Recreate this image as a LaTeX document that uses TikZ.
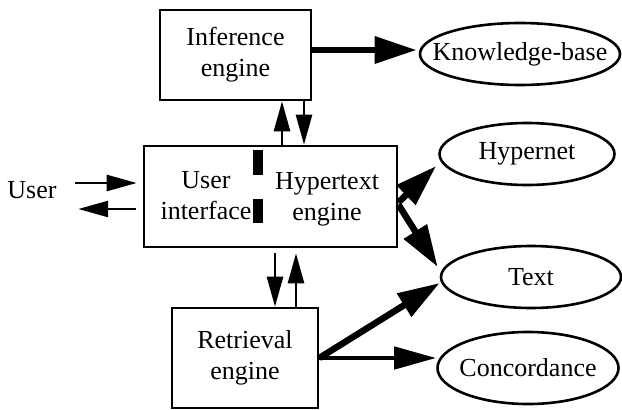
\documentclass[tikz,border=0pt]{standalone}
\usepackage{fontspec}
\setmainfont{Liberation Serif}
\usetikzlibrary{arrows.meta,shapes.geometric,calc}

\begin{document}
\begin{tikzpicture}[x=1pt,y=-1pt,
	every node/.style={font=\fontsize{26}{31}\selectfont},
	box/.style={draw,line width=2.6pt,inner sep=0pt,align=center},
	oval/.style={draw,ellipse,line width=2.6pt,inner sep=0pt},
	words/.style={align=center,inner sep=0pt},
	thinarrow/.style={line width=2.6pt,-{Triangle[length=30pt,width=16pt]}},
	midarrow/.style={line width=4.5pt,-{Triangle[length=42pt,width=22pt]}},
	bigarrow/.style={line width=6.5pt,-{Triangle[length=42pt,width=26pt]}}]
	
	\useasboundingbox (0,0) rectangle (622,410);
	
	% engines
	\node[box,minimum width=151pt,minimum height=90pt] (inf) at (235.5,55) {Inference\\engine};
	\node[box,minimum width=253pt,minimum height=101pt] (ui) at (270.5,196.5) {};
	\node[words] (uitxt) at (206,196) {User\\interface};
	\node[words] (hyptxt) at (327,199) {Hypertext\\engine};
	\fill (253,150) rectangle (263,175);
	\fill (253,199) rectangle (263,223);
	\node[box,minimum width=146pt,minimum height=100pt] (ret) at (245,358) {Retrieval\\engine};
	\node[words] (user) at (32,190) {User};
	
	% stores
	\node[oval,minimum width=200pt,minimum height=62pt,label={center:Knowledge-base}] (kb) at (520,54) {};
	\node[oval,minimum width=175pt,minimum height=62pt,label={center:Hypernet}] (hyp) at (527,154) {};
	\node[oval,minimum width=180pt,minimum height=62pt,label={center:Text}] (txt) at (531,277) {};
	\node[oval,minimum width=181pt,minimum height=72pt,label={center:Concordance}] (conc) at (528,368) {};
	
	% user
	\draw[thinarrow] ($(user.east)+(18.5,-7)$) -- ($(ui.west)+(-6,-13.5)$);
	\draw[thinarrow] ($(ui.west)+(-7,12.5)$) -- ($(user.east)+(21.5,19)$);
	
	% up and down
	\draw[thinarrow] ($(ui.north)+(11.5,0)$) -- ($(inf.south)+(46.5,0)$);
	\draw[thinarrow] ($(inf.south)+(68.5,0)$) -- ($(ui.north)+(33.5,0)$);
	\draw[thinarrow] ($(ui.south)+(4.5,5)$) -- ($(ret.north)+(30,0)$);
	\draw[thinarrow] ($(ret.north)+(51,0)$) -- ($(ui.south)+(25.5,5)$);
	
	% out to the stores
	\draw[bigarrow] ($(inf.east)+(0,-5)$) -- ($(kb.west)+(-2,-4)$);
	\draw[bigarrow] ($(ui.east)+(0,6)$) -- ($(hyp.west)+(-2,12)$);
	\draw[bigarrow] ($(ui.east)+(0,8)$) -- ($(txt.west)+(-2,-10)$);
	\draw[bigarrow] (ret.east) -- ($(txt.west)+(0,6)$);
	\draw[midarrow] (ret.east) -- (ret.east -| conc.west);
	
\end{tikzpicture}
\end{document}
